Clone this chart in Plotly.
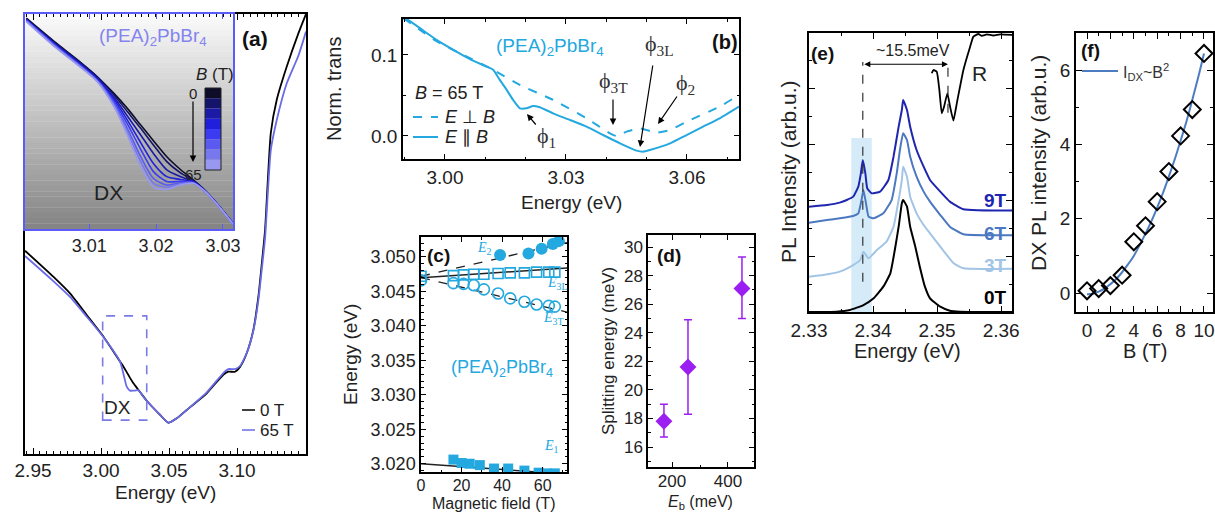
import plotly.graph_objects as go

W, H = 1215, 512
FONT = "Liberation Sans, Arial, sans-serif"
SERIF = "Liberation Serif, Times New Roman, serif"
CYAN = "#23a8df"
PURPLE = "#9b1ff0"

# ---------------- data ----------------
# (a) main transmission spectra
a_energy = [2.9441, 2.9649, 2.9772, 2.9895, 3.0017, 3.0140, 3.0164, 3.0189, 3.0213, 3.0238, 3.0250,
            3.0274, 3.0311, 3.0336, 3.0434, 3.0495, 3.0557, 3.0630, 3.0777, 3.0899, 3.0936, 3.0985,
            3.1022, 3.1071, 3.1120, 3.1157, 3.1182, 3.1206, 3.1248, 3.1292, 3.1365, 3.1451, 3.1507]
a_trans_0T = [0.462, 0.403, 0.365, 0.316, 0.267, 0.210, 0.199, 0.186, 0.173, 0.161, 0.156,
              0.146, 0.131, 0.121, 0.089, 0.071, 0.081, 0.100, 0.138, 0.180, 0.187, 0.187,
              0.198, 0.229, 0.282, 0.358, 0.433, 0.509, 0.729, 0.805, 0.880, 0.956, 1.000]
a_trans_65T = [0.450, 0.393, 0.357, 0.312, 0.266, 0.210, 0.183, 0.153, 0.144, 0.144, 0.144,
               0.145, 0.130, 0.121, 0.089, 0.071, 0.081, 0.100, 0.140, 0.184, 0.193, 0.193,
               0.200, 0.229, 0.280, 0.350, 0.420, 0.490, 0.690, 0.759, 0.842, 0.905, 0.960]
a_ticks = [2.95, 3.00, 3.05, 3.10]

# (a) inset: spectra for increasing field
inset_energy = [3.0006, 3.0048, 3.0083, 3.0112, 3.0137, 3.0157, 3.0177, 3.0196, 3.0216, 3.0236,
                3.0256, 3.0275, 3.0295, 3.0315]
inset_fields = [0, 9, 18, 27, 36, 45, 55, 65]
inset_trans = [
    [0.962, 0.854, 0.769, 0.692, 0.615, 0.546, 0.469, 0.397, 0.323, 0.265, 0.215, 0.162, 0.092, 0.015],
    [0.958, 0.851, 0.766, 0.692, 0.608, 0.531, 0.454, 0.377, 0.300, 0.249, 0.212, 0.160, 0.092, 0.015],
    [0.957, 0.846, 0.762, 0.685, 0.597, 0.511, 0.423, 0.338, 0.262, 0.231, 0.209, 0.160, 0.091, 0.015],
    [0.954, 0.843, 0.757, 0.680, 0.588, 0.492, 0.388, 0.292, 0.231, 0.218, 0.206, 0.158, 0.091, 0.014],
    [0.952, 0.840, 0.754, 0.677, 0.578, 0.474, 0.357, 0.254, 0.208, 0.209, 0.203, 0.158, 0.091, 0.014],
    [0.951, 0.837, 0.751, 0.674, 0.569, 0.454, 0.323, 0.223, 0.192, 0.203, 0.202, 0.158, 0.089, 0.014],
    [0.949, 0.834, 0.748, 0.672, 0.562, 0.438, 0.300, 0.200, 0.182, 0.197, 0.200, 0.157, 0.089, 0.012],
    [0.946, 0.831, 0.746, 0.669, 0.554, 0.423, 0.277, 0.182, 0.172, 0.192, 0.200, 0.157, 0.089, 0.012],
]
inset_colors = ["#0d0d2a", "#14146a", "#1a1aa6", "#2020dc", "#3b3bf2", "#5a5af0", "#7878ee", "#9898f0"]

# (b) normalised transmission at 65 T
b_energy_par = [2.9897, 2.9938, 2.9979, 3.0021, 3.0062, 3.0103, 3.0120, 3.0136, 3.0153, 3.0169,
                3.0186, 3.0202, 3.0219, 3.0235, 3.0268, 3.0310, 3.0351, 3.0392, 3.0434, 3.0475,
                3.0491, 3.0508, 3.0558, 3.0599, 3.0640, 3.0681, 3.0729]
b_trans_par = [0.1475, 0.1331, 0.1187, 0.1063, 0.0948, 0.0857, 0.0816, 0.0692, 0.0569, 0.0445,
               0.0342, 0.0342, 0.0371, 0.0354, 0.0280, 0.0198, 0.0115, 0.0012, -0.0091, -0.0181,
               -0.0194, -0.0173, -0.0091, 0.0012, 0.0115, 0.0218, 0.0363]
b_energy_perp = [2.9897, 2.9938, 2.9979, 3.0021, 3.0062, 3.0103, 3.0120, 3.0186, 3.0268, 3.0351,
                 3.0409, 3.0425, 3.0450, 3.0483, 3.0508, 3.0525, 3.0558, 3.0599, 3.0681, 3.0729]
b_trans_perp = [0.1454, 0.1310, 0.1170, 0.1060, 0.0960, 0.0860, 0.0816, 0.0630, 0.0445, 0.0218,
                0.0033, 0.0000, 0.0054, 0.0095, 0.0062, 0.0041, 0.0074, 0.0177, 0.0363, 0.0507]

# (c) peak energies vs magnetic field
c_B_E2 = [39, 53, 59.5, 65, 68]
c_E2 = [3.0503, 3.0505, 3.0512, 3.0519, 3.0523]
c_B_E3 = [0, 16, 21, 26, 31, 38, 44, 51, 57, 63, 66]
c_E3L = [3.0472, 3.0473, 3.0474, 3.0475, 3.0475, 3.0476, 3.0477, 3.0477, 3.0478, 3.0478, 3.0478]
c_E3T = [3.0466, 3.0462, 3.0461, 3.0459, 3.0453, 3.0447, 3.0440, 3.0435, 3.0431, 3.0429, 3.0428]
c_B_E1 = [16, 20, 24, 29, 36, 43, 51, 58, 62, 66]
c_E1 = [3.0206, 3.0201, 3.0200, 3.0198, 3.0193, 3.0193, 3.0190, 3.0187, 3.0186, 3.0186]
c_fit_B = [0, 72]
c_fit_E2 = [3.0472, 3.0521]
c_fit_E3L = [3.0470, 3.0484]
c_fit_E3T = [3.0470, 3.0420]
c_fit_E1 = [3.0200, 3.0185]

# (d) splitting energy vs binding energy
d_Eb = [171, 257, 450]
d_Eb_err = [0, 0, 8]
d_split = [17.8, 21.6, 27.1]
d_err_up = [1.2, 3.3, 2.2]
d_err_dn = [1.1, 3.3, 2.1]

# (e) PL spectra
e_x_9T = [2.3300, 2.3328, 2.3348, 2.3359, 2.3369, 2.3377, 2.3381, 2.3384, 2.3388, 2.3391, 2.3398, 2.3411,
          2.3424, 2.3432, 2.3440, 2.3445, 2.3447, 2.3453, 2.3458, 2.3468, 2.3479, 2.3489, 2.3505, 2.3520,
          2.3541, 2.3617]
e_y_9T = [1.888, 1.918, 1.960, 2.007, 2.067, 2.246, 2.485, 2.724, 2.485, 2.216, 2.127, 2.157,
          2.366, 2.784, 3.321, 3.620, 3.799, 3.620, 3.321, 2.903, 2.604, 2.366, 2.157, 1.978,
          1.841, 1.817]
e_x_6T = [2.3300, 2.3328, 2.3348, 2.3369, 2.3377, 2.3382, 2.3385, 2.3389, 2.3393, 2.3401, 2.3416, 2.3429,
          2.3437, 2.3442, 2.3447, 2.3453, 2.3458, 2.3468, 2.3479, 2.3489, 2.3505, 2.3520, 2.3541, 2.3617]
e_y_6T = [1.601, 1.649, 1.679, 1.720, 1.768, 2.007, 2.186, 1.947, 1.708, 1.679, 1.768, 2.007,
          2.485, 2.903, 3.202, 3.082, 2.784, 2.425, 2.157, 1.978, 1.738, 1.529, 1.392, 1.374]
e_x_3T = [2.3300, 2.3322, 2.3348, 2.3369, 2.3380, 2.3385, 2.3393, 2.3406, 2.3421, 2.3432, 2.3440, 2.3445,
          2.3447, 2.3453, 2.3458, 2.3468, 2.3479, 2.3489, 2.3505, 2.3526, 2.3541, 2.3617]
e_y_3T = [0.633, 0.663, 0.723, 0.842, 0.932, 1.081, 0.962, 1.111, 1.260, 1.529, 2.007, 2.366,
          2.605, 2.425, 2.067, 1.768, 1.559, 1.410, 1.171, 0.872, 0.783, 0.777]
e_x_0T = [2.3300, 2.3343, 2.3364, 2.3385, 2.3401, 2.3416, 2.3427, 2.3434, 2.3440, 2.3445, 2.3447, 2.3453,
          2.3458, 2.3466, 2.3473, 2.3481, 2.3489, 2.3505, 2.3520, 2.3536, 2.3617]
e_y_0T = [0.0, 0.006, 0.036, 0.125, 0.245, 0.454, 0.693, 1.111, 1.529, 1.947, 2.007, 1.888,
          1.529, 1.171, 0.812, 0.454, 0.245, 0.096, 0.024, 0.006, 0.0]
e_x_R = [2.34917, 2.34942, 2.34995, 2.35036, 2.35073, 2.35109, 2.35161, 2.35203, 2.35255, 2.35308,
         2.35411, 2.35516, 2.35567, 2.35645, 2.35698, 2.35777, 2.35880, 2.35984, 2.36172]
e_y_R = [4.278, 4.337, 4.306, 3.978, 3.561, 3.679, 3.919, 3.679, 3.428, 3.740,
         4.337, 4.754, 4.934, 4.982, 4.950, 4.975, 4.955, 4.975, 4.965]
e_labels = ["9T", "6T", "3T", "0T"]
e_colors = ["#1e26b0", "#4b78c0", "#a2c5e6", "#000000"]
e_DX_pos = 2.3384
e_R_pos = 2.3517

# (f) DX PL intensity vs B
f_B = [0, 1, 2, 3, 4, 5, 6, 7, 8, 9, 10]
f_I = [0.06, 0.12, 0.20, 0.48, 1.38, 1.81, 2.46, 3.27, 4.23, 4.94, 6.45]
f_fit_B = [0, 0.5, 1, 1.5, 2, 2.5, 3, 3.5, 4, 4.5, 5, 5.5, 6, 6.5, 7, 7.5, 8, 8.5, 9, 9.5, 10]
f_fit_I = [-0.03, -0.02, 0.04, 0.12, 0.24, 0.38, 0.56, 0.77, 1.0, 1.29, 1.6, 1.93, 2.3, 2.7,
           3.14, 3.6, 4.1, 4.62, 5.2, 5.8, 6.45]


# ---------------- helpers ----------------
def px(x):
    return x / W


def py(y):
    return 1 - y / H


fig = go.Figure()


def add(ax, **kw):
    fig.add_trace(go.Scatter(xaxis="x" + ax, yaxis="y" + ax, showlegend=False,
                             hoverinfo="skip", **kw))


def axis(dom, rng, anchor, dtick=None, minor=None, labels=True, size=18, color="black",
         ticklen=6, ticks="inside", **kw):
    d = dict(domain=dom, range=rng, anchor=anchor, showline=True, linecolor=color, linewidth=1.5,
             mirror="ticks", ticks=ticks, ticklen=ticklen, tickwidth=1.2, tickcolor=color,
             showgrid=False, zeroline=False, showticklabels=labels, automargin=False,
             ticklabeloverflow="allow",
             tickfont=dict(size=size, color="#222", family=FONT))
    if dtick is not None:
        d["dtick"] = dtick
        d["tick0"] = 0
    if minor is not None:
        d["minor"] = dict(dtick=minor, ticks="inside", ticklen=ticklen * 0.55,
                          tickcolor=color, tickwidth=1, tick0=0)
    d.update(kw)
    return d


annots = []
shapes = []


def text(x, y, s, size=18, color="#222", family=FONT, xanchor="center", angle=0, **kw):
    annots.append(dict(x=px(x), y=py(y), xref="paper", yref="paper", text=s, showarrow=False,
                       xanchor=xanchor, yanchor="middle", textangle=angle,
                       font=dict(size=size, color=color, family=family), **kw))


def arrow(x0, y0, x1, y1, color="black", width=1.2):
    annots.append(dict(x=px(x1), y=py(y1), xref="paper", yref="paper", ax=x0 - x1, ay=y0 - y1,
                       axref="pixel", ayref="pixel", text="", showarrow=True, arrowhead=2,
                       arrowsize=1.1, arrowwidth=width, arrowcolor=color))


def pline(x0, y0, x1, y1, color, dash="solid", width=2):
    shapes.append(dict(type="line", xref="paper", yref="paper", x0=px(x0), x1=px(x1),
                       y0=py(y0), y1=py(y1), line=dict(color=color, width=width, dash=dash)))


# ---------------- (a) main ----------------
add("", x=a_energy, y=a_trans_0T, mode="lines", line=dict(color="black", width=1.8, shape="spline", smoothing=0.5))
add("", x=a_energy, y=a_trans_65T, mode="lines", line=dict(color="#6a6ae8", width=1.8, shape="spline", smoothing=0.5))
shapes.append(dict(type="rect", xref="x", yref="y", x0=3.0012, x1=3.0336, y0=0.077, y1=0.314,
                   line=dict(color="#7b7be6", width=1.6, dash="dash")))

# ---------------- (a) inset ----------------
N = 40
for i in range(N):
    g = int(252 - (252 - 132) * (i + 0.5) / N)
    shapes.append(dict(type="rect", xref="x2 domain", yref="y2 domain", x0=0, x1=1,
                       y0=1 - (i + 1) / N, y1=1 - i / N + 0.001, layer="below",
                       fillcolor=f"rgb({g},{g},{g})", line=dict(width=0)))
for k, tr in enumerate(inset_trans):
    add("2", x=inset_energy, y=tr, mode="lines",
        line=dict(color=inset_colors[k], width=1.6, shape="spline", smoothing=0.7))
# discrete colour bar
cb_top, cb_bot, cb_l, cb_r = 88, 170, 205, 221
n = len(inset_colors)
for k, c in enumerate(inset_colors):
    y0 = cb_top + (cb_bot - cb_top) * k / n
    y1 = cb_top + (cb_bot - cb_top) * (k + 1) / n
    shapes.append(dict(type="rect", xref="paper", yref="paper", x0=px(cb_l), x1=px(cb_r),
                       y0=py(y1), y1=py(y0), fillcolor=c, line=dict(width=0)))
shapes.append(dict(type="rect", xref="paper", yref="paper", x0=px(cb_l), x1=px(cb_r),
                   y0=py(cb_bot), y1=py(cb_top), line=dict(color="#222", width=1)))

# ---------------- (b) ----------------
add("3", x=b_energy_perp, y=b_trans_perp, mode="lines",
    line=dict(color=CYAN, width=2, dash="dash", shape="spline", smoothing=0.5))
add("3", x=b_energy_par, y=b_trans_par, mode="lines",
    line=dict(color=CYAN, width=2, shape="spline", smoothing=0.5))

# ---------------- (c) ----------------
add("4", x=c_fit_B, y=c_fit_E2, mode="lines", line=dict(color="#222", width=1.3, dash="dash"))
add("4", x=c_fit_B, y=c_fit_E3T, mode="lines", line=dict(color="#222", width=1.3, dash="dash"))
add("4", x=c_fit_B, y=c_fit_E3L, mode="lines", line=dict(color="#222", width=1.5))
add("4", x=c_fit_B, y=c_fit_E1, mode="lines", line=dict(color="#222", width=1.5))
add("4", x=c_B_E2, y=c_E2, mode="markers", marker=dict(symbol="circle", size=12, color=CYAN))
add("4", x=c_B_E3, y=c_E3L, mode="markers",
    marker=dict(symbol="square-open", size=10, color=CYAN, line=dict(width=1.6)))
add("4", x=c_B_E3, y=c_E3T, mode="markers",
    marker=dict(symbol="circle-open", size=11, color=CYAN, line=dict(width=1.6)))
add("4", x=c_B_E1, y=c_E1, mode="markers", marker=dict(symbol="square", size=10, color=CYAN))

# ---------------- (d) ----------------
add("5", x=d_Eb, y=d_split, mode="markers",
    marker=dict(symbol="diamond", size=13, color=PURPLE),
    error_y=dict(type="data", array=d_err_up, arrayminus=d_err_dn, color=PURPLE, thickness=1.5, width=4),
    error_x=dict(type="data", array=d_Eb_err, color=PURPLE, thickness=1.5, width=0))

# ---------------- (e) ----------------
shapes.append(dict(type="rect", xref="x6", yref="y6", x0=2.3366, x1=2.3398, y0=0, y1=3.12,
                   fillcolor="#d5ecf8", line=dict(width=0), layer="below"))
for xs, ys, c in [(e_x_9T, e_y_9T, e_colors[0]), (e_x_6T, e_y_6T, e_colors[1]),
                  (e_x_3T, e_y_3T, e_colors[2]), (e_x_0T, e_y_0T, e_colors[3])]:
    add("6", x=xs, y=ys, mode="lines", line=dict(color=c, width=2, shape="spline", smoothing=0.4))
add("6", x=e_x_R, y=e_y_R, mode="lines", line=dict(color="black", width=1.8, shape="spline", smoothing=0.4))
shapes.append(dict(type="line", xref="x6", yref="y6", x0=e_DX_pos, x1=e_DX_pos, y0=0.54, y1=4.48,
                   line=dict(color="#333", width=1.2, dash="dash")))
shapes.append(dict(type="line", xref="x6", yref="y6", x0=e_R_pos, x1=e_R_pos, y0=3.57, y1=4.48,
                   line=dict(color="#333", width=1.2, dash="dash")))
annots.append(dict(x=e_R_pos, y=4.44, xref="x6", yref="y6", ax=e_DX_pos, ay=4.44, axref="x6",
                   ayref="y6", text="", showarrow=True, arrowhead=2, startarrowhead=2,
                   arrowside="end+start", arrowsize=1, arrowwidth=1.2, arrowcolor="black"))

# ---------------- (f) ----------------
add("7", x=f_fit_B, y=f_fit_I, mode="lines", line=dict(color="#4d7dc0", width=2, shape="spline"))
add("7", x=f_B, y=f_I, mode="markers",
    marker=dict(symbol="diamond-open", size=13, color="black", line=dict(width=2, color="black")))


# ---------------- axes ----------------
def dx(l, r):
    return [px(l), px(r)]


def dy(t, b):
    return [py(b), py(t)]


layout_axes = dict(
    xaxis=axis(dx(25, 306), [2.9441, 3.1507], "y", minor=0.005, size=19, ticklen=6,
               tickvals=a_ticks, tickformat=".2f", ticklabelstandoff=-2),
    yaxis=axis(dy(14, 454), [0, 1.0], "x", labels=False, ticks=""),
    xaxis2=axis(dx(25, 233), [3.0004, 3.0315], "y2", dtick=0.01, size=18, color="#5b5bf5", ticklen=5,
                tickformat=".2f"),
    yaxis2=axis(dy(14, 229), [-0.0108, 0.9815], "x2", labels=False, ticks="", color="#5b5bf5"),
    xaxis3=axis(dx(403, 739), [2.9896, 3.0729], "y3", dtick=0.03, minor=0.01, size=19, ticklen=5,
                tickformat=".2f"),
    yaxis3=axis(dy(19, 159), [-0.0284, 0.1444], "x3", dtick=0.1, minor=0.05, size=19, ticklen=5,
                tickformat=".1f"),
    xaxis4=axis(dx(421, 567), [0, 72], "y4", dtick=20, minor=10, size=16, ticklen=5,
                ticklabelstandoff=-2),
    yaxis4=axis(dy(237, 472), [3.0188, 3.0529], "x4", dtick=0.005, minor=0.001, size=18, ticklen=5,
                tickformat=".3f"),
    xaxis5=axis(dx(648, 754), [114, 493], "y5", dtick=200, minor=100, size=17, ticklen=5,
                ticklabelstandoff=-2),
    yaxis5=axis(dy(235, 467), [14.6, 30.84], "x5", dtick=2, minor=1, size=17, ticklen=5),
    xaxis6=axis(dx(809, 1012), [2.33, 2.3617], "y6", dtick=0.01, minor=0.005, size=19, ticklen=6,
                tickformat=".2f"),
    yaxis6=axis(dy(33, 312), [0, 5.0], "x6", dtick=1, minor=0.5, labels=False, ticklen=6),
    xaxis7=axis(dx(1076, 1213), [-0.94, 10.77], "y7", dtick=2, minor=1, size=19, ticklen=6),
    yaxis7=axis(dy(33, 312), [-0.51, 7.0], "x7", dtick=2, minor=1, size=19, ticklen=6),
)

# ---------------- texts ----------------
# (a)
text(255, 38, "<b>(a)</b>", size=21, color="#111")
text(153, 37, "(PEA)<sub>2</sub>PbBr<sub>4</sub>", size=19, color="#8484ee")
text(215, 74, "<i>B</i> (T)", size=17)
text(193, 93, "0", size=15)
arrow(193, 100, 193, 162)
text(193, 174, "65", size=15)
text(108, 192, "DX", size=21)
text(118, 407, "DX", size=19)
pline(242, 410, 255, 410, "black", width=1.5)
text(258, 410, "0 T", size=17, xanchor="left")
pline(242, 430, 255, 430, "#6a6ae8", width=1.5)
text(258, 430, "65 T", size=17, xanchor="left")
text(165, 492, "Energy (eV)", size=19)
# (b)
text(725, 42, "<b>(b)</b>", size=20, color="#111")
text(550, 47, "(PEA)<sub>2</sub>PbBr<sub>4</sub>", size=19, color=CYAN)
text(413, 93, "<i>B</i> = 65 T", size=18, xanchor="left")
pline(413, 117, 438, 117, CYAN, dash="dash", width=2)
text(443, 117, "<i>E</i> ⊥ <i>B</i>", size=18, xanchor="left")
pline(413, 137, 438, 137, CYAN, width=2)
text(443, 137, "<i>E</i> ∥ <i>B</i>", size=18, xanchor="left")
text(546, 137, "ϕ<sub>1</sub>", size=22, family=SERIF, color="#333")
arrow(537, 126, 527, 114)
text(613, 82, "ϕ<sub>3T</sub>", size=22, family=SERIF, color="#333")
arrow(613, 98, 613, 125)
text(659, 45, "ϕ<sub>3L</sub>", size=22, family=SERIF, color="#333")
arrow(653, 64, 640, 147)
text(685, 84, "ϕ<sub>2</sub>", size=22, family=SERIF, color="#333")
arrow(678, 95, 658, 124)
text(334, 89, "Norm. trans", size=20, angle=-90)
text(571, 202, "Energy (eV)", size=19)
# (c)
text(438, 255, "<b>(c)</b>", size=19, color="#111")
text(484, 248, "<i>E</i><sub>2</sub>", size=14, family=SERIF, color=CYAN)
text(557, 283, "<i>E</i><sub>3L</sub>", size=14, family=SERIF, color=CYAN)
text(553, 318, "<i>E</i><sub>3T</sub>", size=14, family=SERIF, color=CYAN)
text(551, 446, "<i>E</i><sub>1</sub>", size=14, family=SERIF, color=CYAN)
text(502, 368, "(PEA)<sub>2</sub>PbBr<sub>4</sub>", size=18, color=CYAN)
text(350, 355, "Energy (eV)", size=19, angle=-90)
text(494, 503, "Magnetic field (T)", size=16)
# (d)
text(669, 255, "<b>(d)</b>", size=19, color="#111")
text(608, 351, "Splitting energy (meV)", size=17, angle=-90)
text(700, 502, "<i>E</i><sub>b</sub> (meV)", size=16)
# (e)
text(822, 53, "<b>(e)</b>", size=19, color="#111")
text(913, 50, "~15.5meV", size=16)
text(979, 73, "R", size=21)
for lab, c, yy in zip(e_labels, e_colors, [200, 233, 265, 297]):
    text(1009, yy, f"<b>{lab}</b>", size=19, color=c, xanchor="right")
text(788, 172, "PL Intensity (arb.u.)", size=21, angle=-90)
text(907, 351, "Energy (eV)", size=20)
# (f)
text(1090, 50, "<b>(f)</b>", size=19, color="#111")
pline(1082, 71, 1118, 71, "#4d7dc0", width=2)
text(1121, 72, "I<sub>DX</sub>~B<sup>2</sup>", size=16, xanchor="left", color="#333")
text(1038, 163, "DX PL intensity (arb.u.)", size=21, angle=-90)
text(1145, 351, "B (T)", size=20)

fig.update_layout(
    template="none",
    width=W, height=H, autosize=False,
    margin=dict(l=0, r=0, t=0, b=0, pad=0),
    paper_bgcolor="white", plot_bgcolor="rgba(0,0,0,0)",
    font=dict(family=FONT, color="#222"),
    annotations=annots, shapes=shapes, showlegend=False,
    **layout_axes,
)

fig.write_html("out.html")
